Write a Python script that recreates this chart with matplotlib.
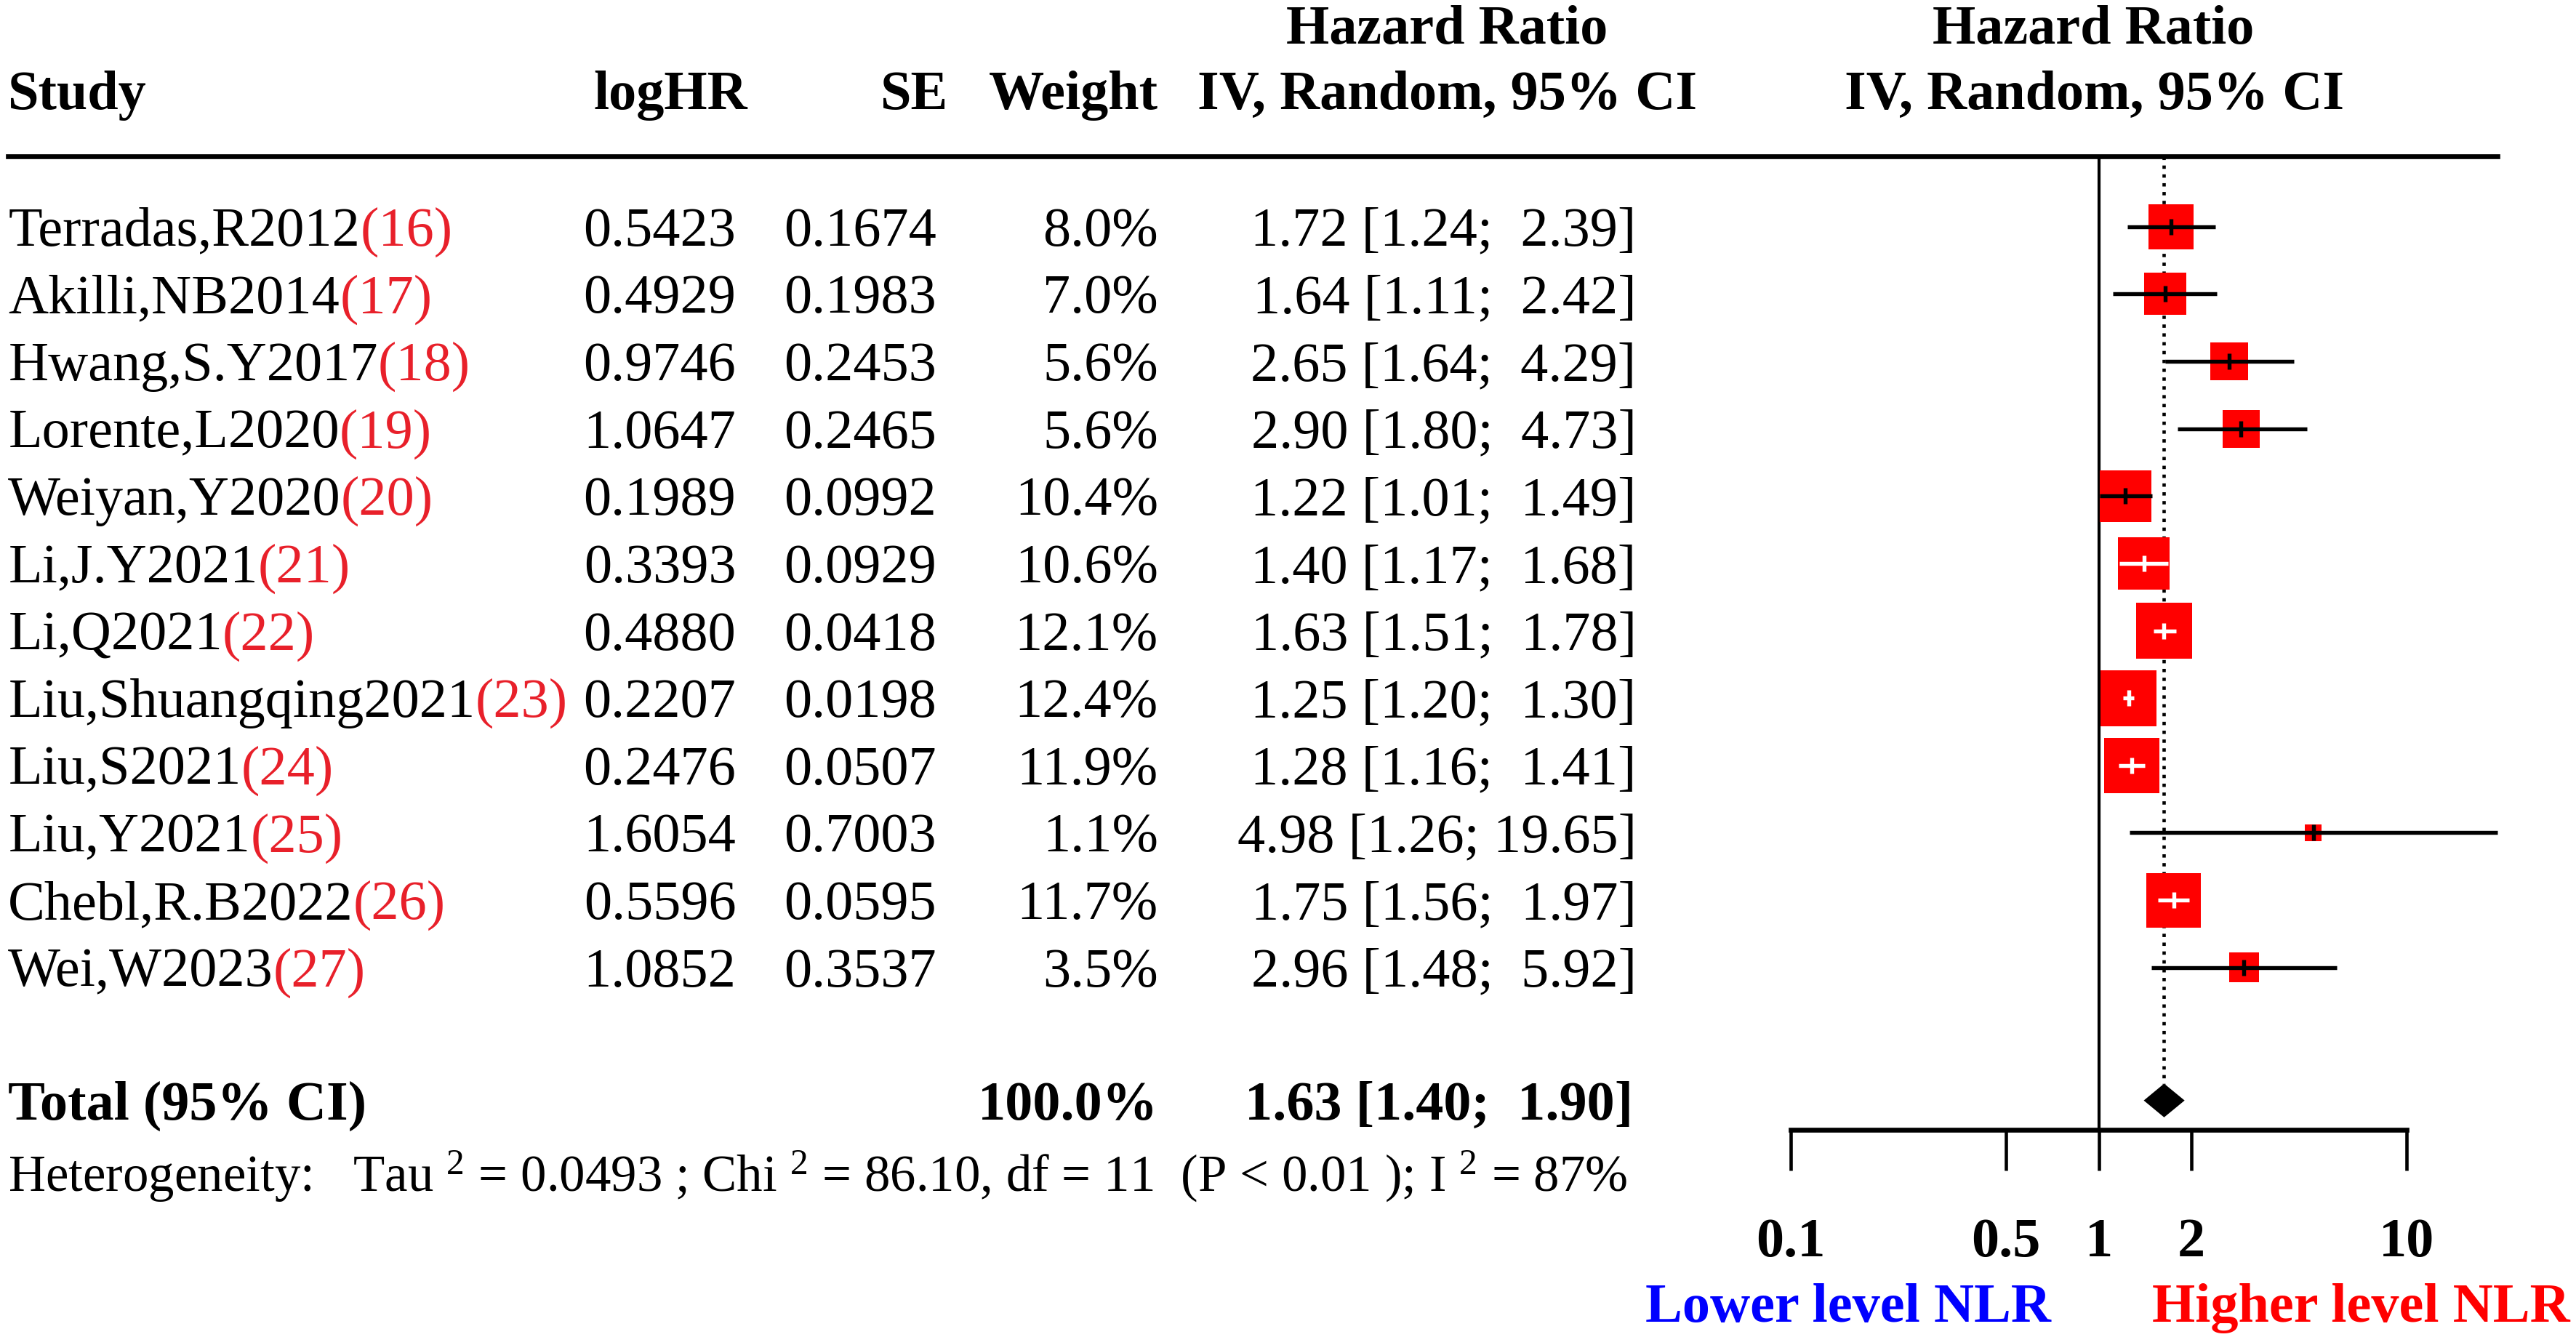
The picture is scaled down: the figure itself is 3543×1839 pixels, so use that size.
import numpy as np
import matplotlib
matplotlib.use("Agg")
import matplotlib.pyplot as plt
from matplotlib import transforms
from matplotlib.lines import Line2D

# ---------------- data ----------------
studies = ["Terradas,R2012", "Akilli,NB2014", "Hwang,S.Y2017", "Lorente,L2020",
           "Weiyan,Y2020", "Li,J.Y2021", "Li,Q2021", "Liu,Shuangqing2021",
           "Liu,S2021", "Liu,Y2021", "Chebl,R.B2022", "Wei,W2023"]
refs = ["(16)", "(17)", "(18)", "(19)", "(20)", "(21)", "(22)", "(23)",
        "(24)", "(25)", "(26)", "(27)"]
log_hr = [0.5423, 0.4929, 0.9746, 1.0647, 0.1989, 0.3393, 0.4880, 0.2207,
          0.2476, 1.6054, 0.5596, 1.0852]
se = [0.1674, 0.1983, 0.2453, 0.2465, 0.0992, 0.0929, 0.0418, 0.0198,
      0.0507, 0.7003, 0.0595, 0.3537]
weight = [8.0, 7.0, 5.6, 5.6, 10.4, 10.6, 12.1, 12.4, 11.9, 1.1, 11.7, 3.5]
hr = [1.72, 1.64, 2.65, 2.90, 1.22, 1.40, 1.63, 1.25, 1.28, 4.98, 1.75, 2.96]
ci_lo = [1.24, 1.11, 1.64, 1.80, 1.01, 1.17, 1.51, 1.20, 1.16, 1.26, 1.56, 1.48]
ci_hi = [2.39, 2.42, 4.29, 4.73, 1.49, 1.68, 1.78, 1.30, 1.41, 19.65, 1.97, 5.92]

total_weight = 100.0
total_hr, total_lo, total_hi = 1.63, 1.40, 1.90
het_text = (r"Heterogeneity:   Tau $^{2}$ = 0.0493 ; Chi $^{2}$ = 86.10, df = 11  "
            r"(P < 0.01 ); I $^{2}$ = 87%")
tick_vals = [0.1, 0.5, 1, 2, 10]
tick_labels = ["0.1", "0.5", "1", "2", "10"]

# ---------------- style ----------------
plt.rcParams["font.family"] = ["Liberation Serif", "DejaVu Serif"]
plt.rcParams["mathtext.fontset"] = "custom"
plt.rcParams["mathtext.rm"] = "Liberation Serif"
plt.rcParams["mathtext.it"] = "Liberation Serif:italic"
plt.rcParams["mathtext.bf"] = "Liberation Serif:bold"
FS = 18.3
RED_REF = "#E8202A"
BOX_RED = "#FF0000"

W, H, DPI = 3543, 1839, 300
fig = plt.figure(figsize=(W / DPI, H / DPI), dpi=DPI)

# reference layout measured on a 1568 x 814 view
RW, RH = 1568.0, 814.0
def fx(x):
    return x / RW
def fy(y):
    return 1 - y / RH

ROW0, ROWSTEP = 138.0, 41.0
AX_L, AX_R, AX_TOP, AX_BOT = 1040.0, 1568.0, 95.0, 688.0
X01, X10 = 1090.0, 1465.0
per_dec = (X10 - X01) / 2.0

ax = fig.add_axes([fx(AX_L), fy(AX_BOT), fx(AX_R) - fx(AX_L), fy(AX_TOP) - fy(AX_BOT)])
ax.set_xscale("log")
ax.set_xlim(10 ** (-1 - (X01 - AX_L) / per_dec), 10 ** (1 + (AX_R - X10) / per_dec))
ax.set_ylim((AX_BOT - ROW0) / ROWSTEP, -(ROW0 - AX_TOP) / ROWSTEP)
ax.set_facecolor("none")
for s in ["top", "left", "right"]:
    ax.spines[s].set_visible(False)
ax.spines["bottom"].set_bounds(0.1, 10)
ax.spines["bottom"].set_linewidth(1.6)
ax.set_yticks([])
ax.xaxis.set_minor_locator(matplotlib.ticker.NullLocator())
ax.set_xticks(tick_vals)
ax.set_xticklabels(tick_labels, fontsize=FS, fontweight="bold")
ax.tick_params(axis="x", direction="out", length=13.5, width=1.1, pad=15.5)

n = len(studies)
rows = np.arange(n)
total_row = (670 - ROW0) / ROWSTEP

# reference lines
ax.axvline(1, color="black", lw=1.0, zorder=1)
diamond_h = 0.25
ax.vlines(total_hr, ax.get_ylim()[1], total_row - diamond_h, colors="black",
          linestyles=":", lw=1.1, zorder=1)

# squares (area proportional to weight)
side_px_per_sqrtw = 9.7 * (W / RW)          # output pixels
side_pt = np.sqrt(weight) * side_px_per_sqrtw * 72.0 / DPI
ax.scatter(hr, rows, s=side_pt ** 2, marker="s", color=BOX_RED, linewidths=0, zorder=3)

# CI lines: white when CI falls inside the box
fig.canvas.draw()
for i in range(n):
    cx = ax.transData.transform((hr[i], rows[i]))[0]
    lx = ax.transData.transform((ci_lo[i], rows[i]))[0]
    hx = ax.transData.transform((ci_hi[i], rows[i]))[0]
    half = side_pt[i] * DPI / 72.0 / 2.0
    inside = (lx >= cx - half) and (hx <= cx + half)
    c = "white" if inside else "black"
    ax.plot([ci_lo[i], ci_hi[i]], [rows[i], rows[i]], color=c, lw=1.3,
            solid_capstyle="butt", zorder=4)
    ax.plot([hr[i]], [rows[i]], marker="|", markersize=5.5, markeredgewidth=1.3,
            color=c, zorder=5)

# diamond
ax.fill([total_lo, total_hr, total_hi, total_hr],
        [total_row, total_row - diamond_h, total_row, total_row + diamond_h],
        color="black", lw=0, zorder=3)

# header rule
fig.add_artist(Line2D([fx(5), fx(1520)], [fy(AX_TOP), fy(AX_TOP)], color="black",
                      lw=1.6, transform=fig.transFigure))

# text shift so that capital letters are centred on the given y
DOWN = -0.098 * FS
tf_fig = transforms.offset_copy(fig.transFigure, fig=fig, y=DOWN, units="points")
blend = transforms.blended_transform_factory(fig.transFigure, ax.transData)
tf_row = transforms.offset_copy(blend, fig=fig, y=DOWN, units="points")

# ---------------- headers ----------------
bold = dict(fontsize=FS, fontweight="bold", va="center")
fig.text(fx(5), fy(55), "Study", ha="left", transform=tf_fig, **bold)
fig.text(fx(455), fy(55), "logHR", ha="right", transform=tf_fig, **bold)
fig.text(fx(577), fy(55), "SE", ha="right", transform=tf_fig, **bold)
fig.text(fx(705), fy(55), "Weight", ha="right", transform=tf_fig, **bold)
fig.text(fx(881), fy(15), "Hazard Ratio", ha="center", transform=tf_fig, **bold)
fig.text(fx(881), fy(55), "IV, Random, 95% CI", ha="center", transform=tf_fig, **bold)
fig.text(fx(1274), fy(15), "Hazard Ratio", ha="center", transform=tf_fig, **bold)
fig.text(fx(1275), fy(55), "IV, Random, 95% CI", ha="center", transform=tf_fig, **bold)

# ---------------- rows ----------------
for i in range(n):
    t = fig.text(fx(5), rows[i], studies[i], transform=tf_row, ha="left", va="center",
                 fontsize=FS, clip_on=False)
    ax.annotate(refs[i], xy=(1, 0.5), xycoords=t, ha="left", va="center",
                fontsize=FS, color=RED_REF, annotation_clip=False)
    fig.text(fx(448), rows[i], f"{log_hr[i]:.4f}", transform=tf_row, ha="right",
             va="center", fontsize=FS)
    fig.text(fx(570), rows[i], f"{se[i]:.4f}", transform=tf_row, ha="right",
             va="center", fontsize=FS)
    fig.text(fx(705), rows[i], f"{weight[i]:.1f}%", transform=tf_row, ha="right",
             va="center", fontsize=FS)
    fig.text(fx(996), rows[i], f"{hr[i]:.2f} [{ci_lo[i]:.2f}; {ci_hi[i]:>5.2f}]",
             transform=tf_row, ha="right", va="center", fontsize=FS)

# total
fig.text(fx(5), total_row, "Total (95% CI)", transform=tf_row, ha="left", **bold)
fig.text(fx(705), total_row, f"{total_weight:.1f}%", transform=tf_row, ha="right", **bold)
fig.text(fx(994), total_row, f"{total_hr:.2f} [{total_lo:.2f}; {total_hi:>5.2f}]",
         transform=tf_row, ha="right", **bold)
fig.text(fx(5), fy(713), het_text, ha="left", va="center", fontsize=17,
         transform=tf_fig)

# direction labels
fig.text(fx(1125), fy(793), "Lower level NLR", ha="center", va="center",
         fontsize=FS, fontweight="bold", color="#0000FF", transform=tf_fig)
fig.text(fx(1437), fy(793), "Higher level NLR", ha="center", va="center",
         fontsize=FS, fontweight="bold", color="#FF0000", transform=tf_fig)

fig.savefig("out.png", dpi=DPI, facecolor="white")
